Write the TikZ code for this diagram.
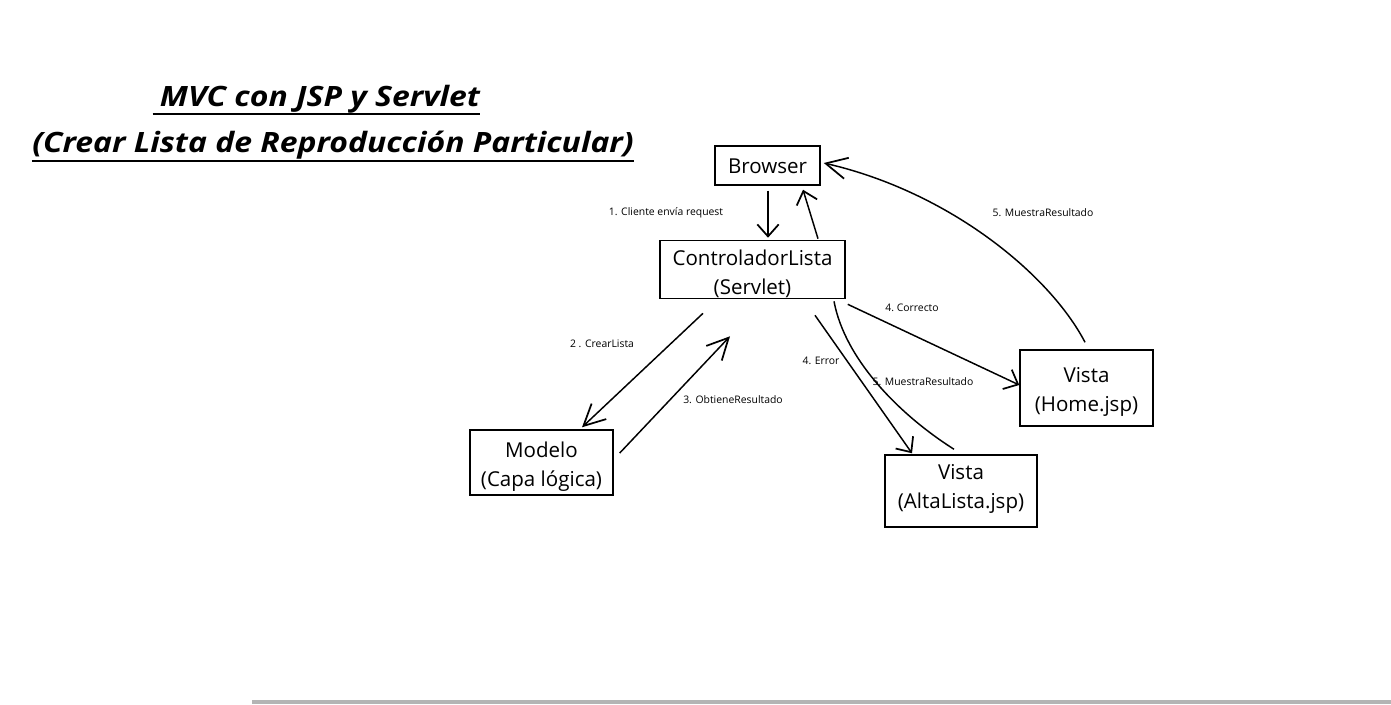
\documentclass[tikz,border=0pt]{standalone}
\usepackage{fontspec}
\setmainfont{Open Sans}
\newfontfamily\titlefont[FakeStretch=1.14]{Open Sans}
\usetikzlibrary{arrows.meta}
\definecolor{bargray}{HTML}{B4B4B4}
\newcommand\boxtext[2]{\raisebox{#1}[\height][\depth]{\begin{tabular}{@{}c@{}}#2\end{tabular}}}
\begin{document}
\begin{tikzpicture}[x=0.75pt,y=-0.75pt,
  box/.style={draw,line width=1.1pt,inner sep=0pt,align=center,font=\fontsize{15.4pt}{21.8pt}\selectfont},
  lbl/.style={inner sep=0pt,font=\fontsize{7.8pt}{9pt}\selectfont},
  ttl/.style={inner sep=0pt,anchor=base,font=\titlefont\bfseries\itshape\fontsize{21pt}{25pt}\selectfont},
  conn/.style={line width=1.1pt},
  arr/.style={conn,-{Straight Barb[length=9pt,width=16pt,line width=1.3pt]}},
  bigarr/.style={conn,-{Straight Barb[length=16pt,width=16pt,line width=1.3pt]}}]
\useasboundingbox (0,0) rectangle (1391,704);
\fill[white] (0,0) rectangle (1391,704);
% title
\node[ttl] (t1) at (320,106) {MVC con JSP y Servlet};
\node[ttl] (t2) at (333,152) {(Crear Lista de Reproducción Particular)};
\draw[line width=1.7pt] ([shift={(-7,8)}]t1.base west) -- ([shift={(0,8)}]t1.base east);
\draw[line width=1.7pt] ([shift={(0,9)}]t2.base west) -- ([shift={(0,9)}]t2.base east);
% boxes
\node[box,minimum width=105*0.75pt,minimum height=39*0.75pt] (browser) at (767.5,165.5) {\boxtext{-1.5pt}{Browser}};
\node[box,minimum width=185*0.75pt,minimum height=57*0.75pt] (ctrl) at (752.5,269.5) {\boxtext{-3.4pt}{ControladorLista\\(Servlet)}};
\node[box,minimum width=143*0.75pt,minimum height=65*0.75pt] (modelo) at (541.5,462.5) {\boxtext{-3pt}{Modelo\\(Capa lógica)}};
\node[box,minimum width=133*0.75pt,minimum height=76*0.75pt] (home) at (1086.5,388) {\boxtext{-2.6pt}{Vista\\(Home.jsp)}};
\node[box,minimum width=152*0.75pt,minimum height=72*0.75pt] (alta) at (961,491) {\boxtext{2.2pt}{Vista\\(AltaLista.jsp)}};
% connectors
\draw[arr] ([shift={(0.5,5)}]browser.south) -- ([shift={(15.5,-2)}]ctrl.north);
\draw[arr] ([shift={(65.5,-1)}]ctrl.north) -- ([shift={(35.5,4)}]browser.south);
\draw[bigarr] ([shift={(-49.5,14)}]ctrl.south) -- ([shift={(40.5,-2)}]modelo.north);
\draw[bigarr] ([shift={(6,-9.5)}]modelo.east) -- ([shift={(-22.5,37)}]ctrl.south);
\draw[arr] ([shift={(2,5)}]ctrl.south east) -- ([shift={(0,-3)}]home.west);
\draw[bigarr] ([shift={(-1.5,-7)}]home.north) .. controls (1050,275) and (950,192) .. ([shift={(3,-2.5)}]browser.east);
\draw[arr] ([shift={(62.5,16)}]ctrl.south) -- ([shift={(-49,-1)}]alta.north);
\draw[conn] ([shift={(-7,-5)}]alta.north) .. controls (900,415) and (845,360) .. ([shift={(81.5,2)}]ctrl.south);
% labels
\node[lbl] (l1) at (666,213) {1. Cliente envía request};
\node[lbl] (l2) at (602,344) {2 . CrearLista};
\node[lbl] (l3) at (733,400) {3. ObtieneResultado};
\node[lbl] (l4) at (912,308) {4.\ Correcto};
\node[lbl] (l5) at (1043,213) {5. MuestraResultado};
\node[lbl] (l6) at (821,361) {4. Error};
\node[lbl] (l7) at (923,382) {5. MuestraResultado};
% bottom bar
\fill[bargray] (252,699.5) rectangle (1391,704);
\end{tikzpicture}
\end{document}
